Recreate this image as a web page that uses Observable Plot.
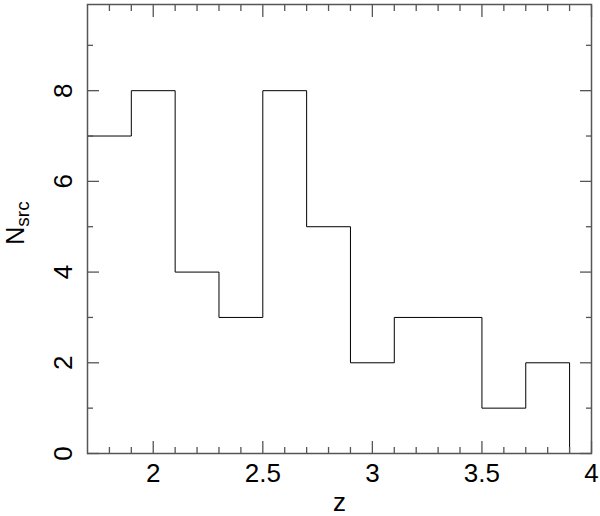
<!DOCTYPE html>
<html>
<head>
<meta charset="utf-8">
<script src="https://cdn.jsdelivr.net/npm/d3@7"></script>
<script src="https://cdn.jsdelivr.net/npm/@observablehq/plot@0.6"></script>
<style>
  html, body { margin: 0; padding: 0; background: #fff; }
  svg { display: block; }
</style>
</head>
<body>
<div id="chart"></div>
<script>
// Bin left edges (last value closes the final step) and counts per bin
const binEdges = [1.7, 1.9, 2.1, 2.3, 2.5, 2.7, 2.9, 3.1, 3.3, 3.5, 3.7, 3.9, 4.0];
const counts   = [7,   8,   4,   3,   8,   5,   2,   3,   3,   1,   2,   0,   0];

const xMajor = [2, 2.5, 3, 3.5, 4];
const xMinor = d3.range(18, 40).map(d => d / 10).filter(v => !xMajor.some(m => Math.abs(m - v) < 1e-9));
const yMajor = [0, 2, 4, 6, 8];
const yMinor = [1, 3, 5, 7, 9];

const xLabel = "z";
const yLabelMain = "N";
const yLabelSub = "src";

const data = binEdges.map((x, i) => ({x, n: counts[i]}));

const frameColor = "#555";
const font = "Liberation Sans, Arial, Helvetica, sans-serif";

const chart = Plot.plot({
  width: 600,
  height: 516,
  marginLeft: 87,
  marginRight: 9,
  marginTop: 4,
  marginBottom: 63,
  style: {fontFamily: font, fontSize: "26px", background: "#fff"},
  x: {domain: [1.7, 4.0]},
  y: {domain: [0, 9.9]},
  marks: [
    Plot.lineY(data, {x: "x", y: "n", curve: "step-after", stroke: "#000", strokeWidth: 1}),
    // inward ticks, bottom & top
    Plot.axisX({anchor: "bottom", ticks: xMajor, tickSize: -12, tickFormat: () => "", stroke: frameColor, strokeWidth: 1.3, label: null}),
    Plot.axisX({anchor: "bottom", ticks: xMinor, tickSize: -6, tickFormat: () => "", stroke: frameColor, strokeWidth: 1.3, label: null}),
    Plot.axisX({anchor: "top", ticks: xMajor, tickSize: -12, tickFormat: () => "", stroke: frameColor, strokeWidth: 1.3, label: null}),
    Plot.axisX({anchor: "top", ticks: xMinor, tickSize: -6, tickFormat: () => "", stroke: frameColor, strokeWidth: 1.3, label: null}),
    Plot.axisY({anchor: "left", ticks: yMajor, tickSize: -12, tickFormat: () => "", stroke: frameColor, strokeWidth: 1.3, label: null}),
    Plot.axisY({anchor: "left", ticks: yMinor, tickSize: -6, tickFormat: () => "", stroke: frameColor, strokeWidth: 1.3, label: null}),
    Plot.axisY({anchor: "right", ticks: yMajor, tickSize: -12, tickFormat: () => "", stroke: frameColor, strokeWidth: 1.3, label: null}),
    Plot.axisY({anchor: "right", ticks: yMinor, tickSize: -6, tickFormat: () => "", stroke: frameColor, strokeWidth: 1.3, label: null}),
    // tick labels
    Plot.axisX({anchor: "bottom", ticks: xMajor, tickSize: 0, tickPadding: 10, tickFormat: d => String(d), fill: "#000", fontSize: 26, label: null}),
    Plot.axisY({anchor: "left", ticks: yMajor, tickSize: 0, tickPadding: 16, tickRotate: -90, tickFormat: d => String(d), fill: "#000", fontSize: 26, label: null}),
    Plot.frame({stroke: frameColor, strokeWidth: 1.5}),
    // axis titles
    Plot.text([xLabel], {frameAnchor: "bottom", dy: 57, lineAnchor: "bottom", text: d => d, fontSize: 26, fill: "#000"}),
    Plot.text([yLabelMain], {frameAnchor: "left", dx: -64, dy: -6, rotate: -90, lineAnchor: "bottom", text: d => d, fontSize: 25, fill: "#000", className: "ylabel"})
  ]
});

// add subscript to the y-axis label
d3.select(chart).selectAll(".ylabel text").each(function() {
  const t = d3.select(this);
  t.text(null);
  t.append("tspan").text(yLabelMain);
  t.append("tspan").attr("font-size", 19).attr("dy", "0.3em").text(yLabelSub);
  t.attr("text-anchor", "middle");
});

document.getElementById("chart").appendChild(chart);
</script>
</body>
</html>
